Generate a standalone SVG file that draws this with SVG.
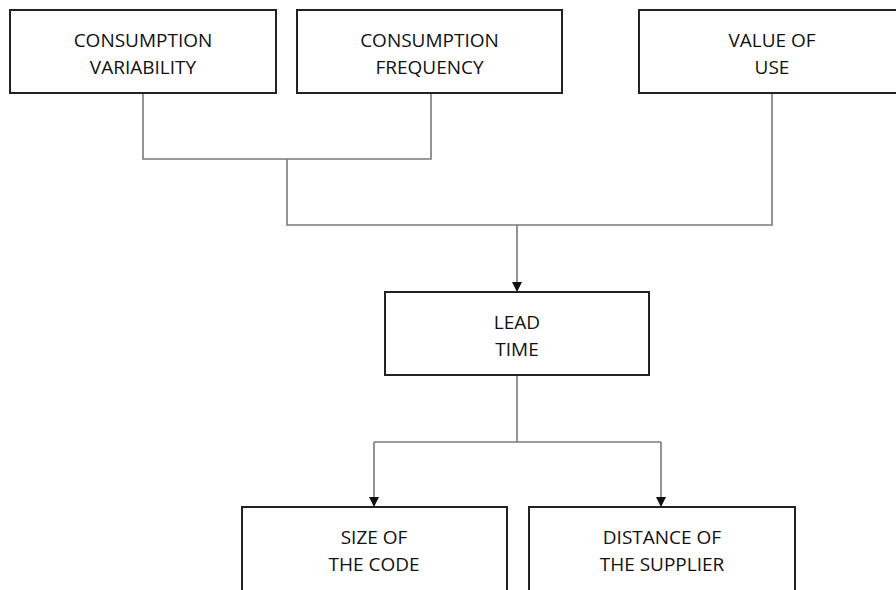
<svg xmlns="http://www.w3.org/2000/svg" width="896" height="590" viewBox="0 0 896 590">
  <style>
    .box { fill: #ffffff; stroke: #222222; stroke-width: 2; }
    .lbl { font-family: "Open Sans", "Liberation Sans", sans-serif; font-size: 19px; fill: #111111; text-anchor: middle; }
    .wire { fill: none; stroke: #7a7a7a; stroke-width: 1.6; }
  </style>
  <defs>
    <marker id="arrow" viewBox="0 0 10 10" refX="10" refY="5" markerWidth="10" markerHeight="10" markerUnits="userSpaceOnUse" orient="auto">
      <path d="M0,0 L10,5 L0,10 Z" fill="#111111"/>
    </marker>
  </defs>
  <rect width="896" height="590" fill="#ffffff"/>

  <g id="connectors">
    <path class="wire" d="M143,93 V159 H431 V93"/>
    <path class="wire" d="M287,159 V225 H772 V93"/>
    <path class="wire" d="M517,225 V292" marker-end="url(#arrow)"/>
    <path class="wire" d="M517,375 V442"/>
    <path class="wire" d="M374,442 H661"/>
    <path class="wire" d="M374,442 V507" marker-end="url(#arrow)"/>
    <path class="wire" d="M661,442 V507" marker-end="url(#arrow)"/>
  </g>

  <g id="consumption-variability">
    <rect class="box" x="10" y="10" width="266" height="83"/>
    <text class="lbl" x="143" y="47">CONSUMPTION</text>
    <text class="lbl" x="143" y="74">VARIABILITY</text>
  </g>
  <g id="consumption-frequency">
    <rect class="box" x="297" y="10" width="265" height="83"/>
    <text class="lbl" x="429.5" y="47">CONSUMPTION</text>
    <text class="lbl" x="429.5" y="74">FREQUENCY</text>
  </g>
  <g id="value-of-use">
    <rect class="box" x="639" y="10" width="270" height="83"/>
    <text class="lbl" x="772" y="47">VALUE OF</text>
    <text class="lbl" x="772" y="74">USE</text>
  </g>
  <g id="lead-time">
    <rect class="box" x="385" y="292" width="264" height="83"/>
    <text class="lbl" x="517" y="329">LEAD</text>
    <text class="lbl" x="517" y="356">TIME</text>
  </g>
  <g id="size-of-code">
    <rect class="box" x="242" y="507" width="265" height="95"/>
    <text class="lbl" x="374" y="544">SIZE OF</text>
    <text class="lbl" x="374" y="571">THE CODE</text>
  </g>
  <g id="distance-of-supplier">
    <rect class="box" x="529" y="507" width="266" height="95"/>
    <text class="lbl" x="662" y="544">DISTANCE OF</text>
    <text class="lbl" x="662" y="571">THE SUPPLIER</text>
  </g>
</svg>
